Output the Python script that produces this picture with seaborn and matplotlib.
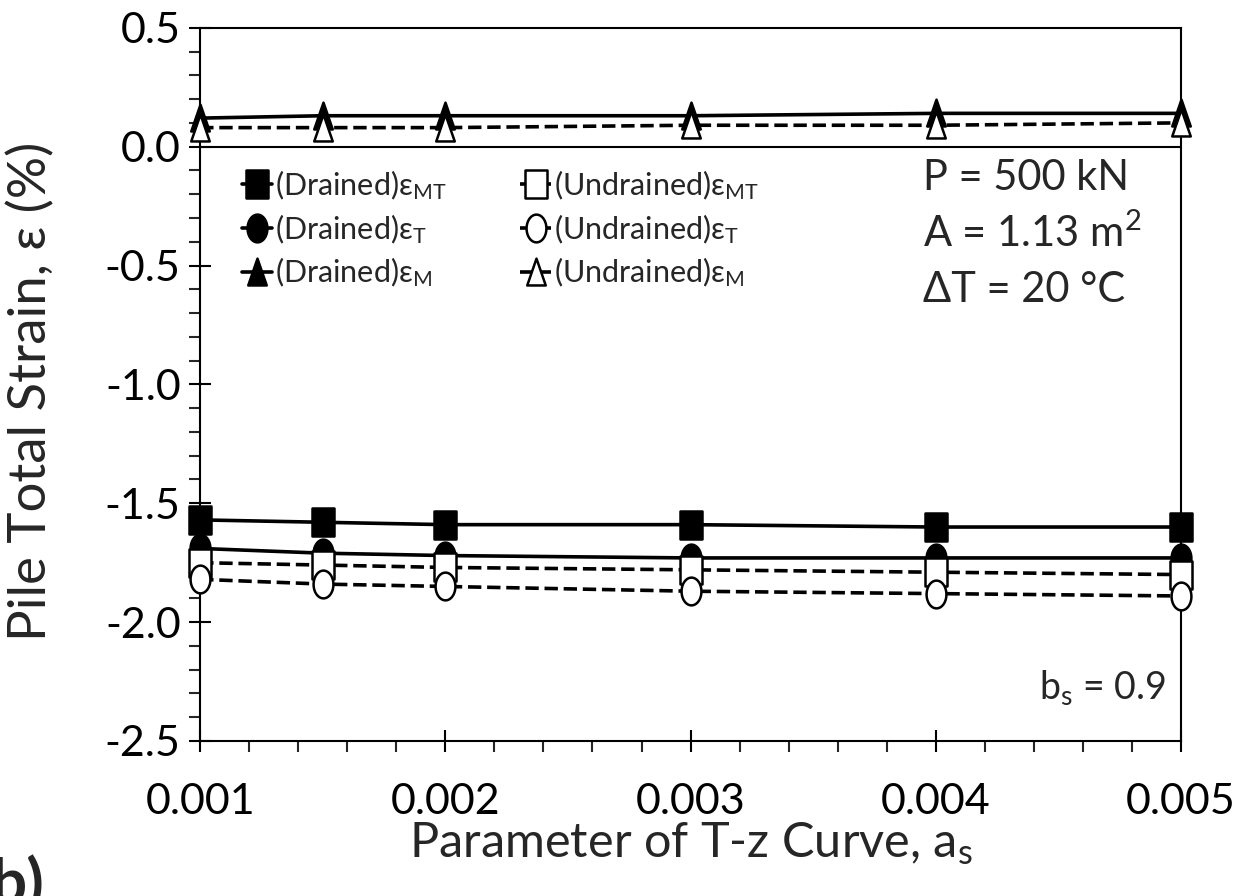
import numpy as np
import pandas as pd
import matplotlib
matplotlib.use("Agg")
import matplotlib.pyplot as plt
import seaborn as sns
from matplotlib.ticker import MultipleLocator, FormatStrFormatter
from matplotlib.path import Path

# data
a_s = [0.001, 0.0015, 0.002, 0.003, 0.004, 0.005]
drained_mt = [-1.57, -1.58, -1.59, -1.59, -1.60, -1.60]
drained_t = [-1.69, -1.71, -1.72, -1.73, -1.73, -1.73]
drained_m = [0.12, 0.13, 0.13, 0.13, 0.14, 0.14]
undrained_mt = [-1.75, -1.76, -1.77, -1.78, -1.79, -1.80]
undrained_t = [-1.82, -1.84, -1.85, -1.87, -1.88, -1.89]
undrained_m = [0.08, 0.08, 0.08, 0.09, 0.09, 0.10]

labels = [
    "(Drained)ε$_{\\mathrm{MT}}$", "(Drained)ε$_{\\mathrm{T}}$", "(Drained)ε$_{\\mathrm{M}}$",
    "(Undrained)ε$_{\\mathrm{MT}}$", "(Undrained)ε$_{\\mathrm{T}}$", "(Undrained)ε$_{\\mathrm{M}}$",
]

sns.set_style("white")
plt.rcParams['font.family'] = ['Lato', 'DejaVu Sans']
plt.rcParams['mathtext.fontset'] = 'custom'
plt.rcParams['mathtext.rm'] = 'Lato'
plt.rcParams['mathtext.it'] = 'Lato'

# the source image is stretched vertically, so markers are taller than wide
t = np.linspace(0, 2 * np.pi, 40)
tall_circle = Path(np.column_stack([0.5 * np.cos(t), 0.7 * np.sin(t)]), closed=True)
tall_square = Path([(-0.5, -0.65), (0.5, -0.65), (0.5, 0.65), (-0.5, 0.65), (-0.5, -0.65)],
                   closed=True)
tall_triangle = Path([(-0.5, -0.7), (0.5, -0.7), (0.0, 0.75), (-0.5, -0.7)], closed=True)

fig = plt.figure(figsize=(12.51, 8.96), dpi=100)
ax = fig.add_axes([0.16, 0.173, 0.784, 0.796])

series = [
    (drained_mt, tall_square, 'black', '-'),
    (drained_t, tall_circle, 'black', '-'),
    (drained_m, tall_triangle, 'black', '-'),
    (undrained_mt, tall_square, 'white', '--'),
    (undrained_t, tall_circle, 'white', '--'),
    (undrained_m, tall_triangle, 'white', '--'),
]

handles = []
for (vals, mk, fc, ls), lab in zip(series, labels):
    df = pd.DataFrame({'x': a_s, 'y': vals})
    sns.lineplot(data=df, x='x', y='y', ax=ax, color='black', linestyle=ls,
                 linewidth=2.6, marker=mk, markersize=20, markerfacecolor=fc,
                 markeredgecolor='black', markeredgewidth=1.8, clip_on=False,
                 label=lab, legend=False, zorder=3)
    handles.append(ax.lines[-1])

ax.axhline(0, color='black', linewidth=1.5, zorder=2)

ax.set_xlim(0.001, 0.005)
ax.set_ylim(-2.5, 0.5)
ax.xaxis.set_major_locator(MultipleLocator(0.001))
ax.xaxis.set_minor_locator(MultipleLocator(0.0002))
ax.yaxis.set_major_locator(MultipleLocator(0.5))
ax.yaxis.set_minor_locator(MultipleLocator(0.1))
ax.xaxis.set_major_formatter(FormatStrFormatter('%.3f'))
ax.yaxis.set_major_formatter(FormatStrFormatter('%.1f'))

ax.tick_params(axis='both', which='both', bottom=True, left=True, top=False, right=False)
ax.tick_params(axis='both', which='major', direction='inout', length=16, width=1.5,
               labelsize=31, colors='black', pad=6)
ax.tick_params(axis='both', which='minor', direction='out', length=8, width=1.5)
ax.tick_params(axis='x', which='major', pad=22)
for sp in ax.spines.values():
    sp.set_color('black')
    sp.set_linewidth(1.5)

ax.set_xlabel("Parameter of T-z Curve, a$_{\\mathrm{s}}$", fontsize=35, labelpad=0)
ax.set_ylabel("Pile Total Strain, ε (%)", fontsize=38)
ax.yaxis.set_label_coords(-0.148, 0.49)

leg = ax.legend(handles=handles, labels=labels, ncol=2, loc='upper left',
                bbox_to_anchor=(0.03, 0.82), frameon=False, fontsize=22,
                handlelength=1.0, handletextpad=0.1, columnspacing=2.4,
                labelspacing=0.33, borderaxespad=0)

ax.text(0.737, 0.79, "P = 500 kN", transform=ax.transAxes, fontsize=30, va='center')
ax.text(0.737, 0.712, "A = 1.13 m$^{2}$", transform=ax.transAxes, fontsize=30, va='center')
ax.text(0.737, 0.632, "ΔT = 20 °C", transform=ax.transAxes, fontsize=30, va='center')
ax.text(0.985, 0.075, "b$_{\\mathrm{s}}$ = 0.9", transform=ax.transAxes, fontsize=27,
        ha='right', va='center')

fig.text(-0.008, -0.02, "b)", fontsize=46, fontweight='bold', ha='left', va='bottom')

fig.savefig("out.png", dpi=100)
